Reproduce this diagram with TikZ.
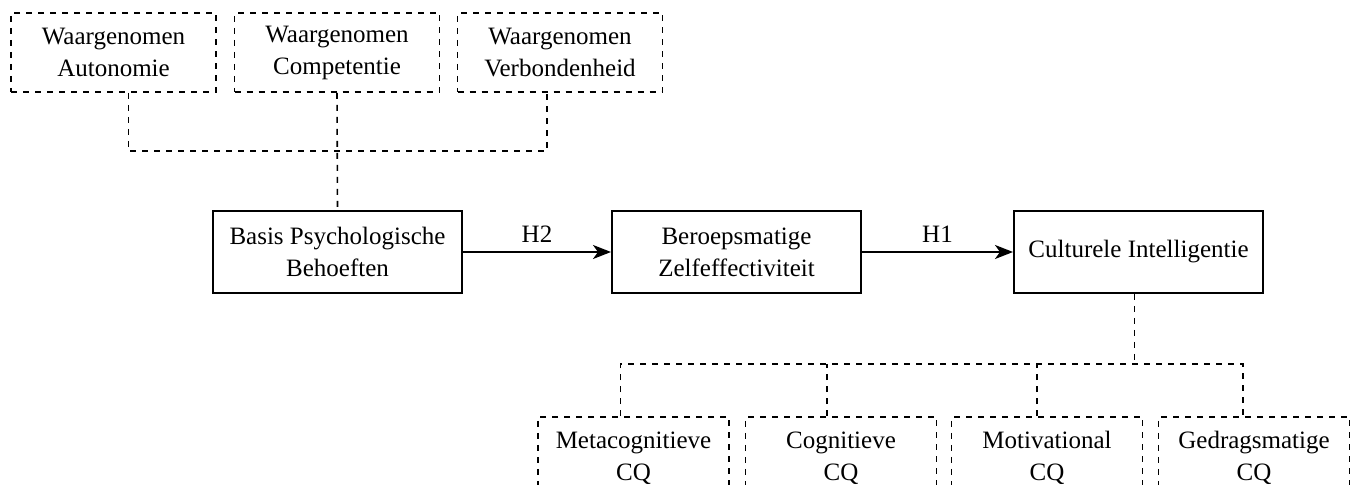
\documentclass[tikz,border=0pt]{standalone}
\usepackage{fontspec}
\setmainfont{Liberation Serif}
\usetikzlibrary{arrows.meta}
\begin{document}
\begin{tikzpicture}[x=0.5pt,y=-0.5pt,
  txt/.style={align=center, inner sep=0pt, font=\fontsize{12.5}{16}\selectfont},
  solidbox/.style={txt, draw, line width=1pt, minimum width=124.5pt, minimum height=41pt},
  dl/.style={draw, line width=0.8pt, dash pattern=on 3pt off 3pt},
  topbox/.style={txt, dl, minimum width=102.5pt, minimum height=39.5pt},
  botbox/.style={txt, dl, minimum width=95.5pt, minimum height=41pt},
  arr/.style={draw, line width=1pt, -{Stealth[length=9pt, width=7pt, inset=2.5pt]}}
]
\clip (0,0) rectangle (1353,485);
% top row
\node[topbox] (t1) at (113.5,52.5) {Waargenomen\\Autonomie};
\node[topbox] (t2) at (337,52.5) {Waargenomen\\Competentie};
\node[topbox] (t3) at (560,52.5) {Waargenomen\\Verbondenheid};
% middle row
\node[solidbox] (bpb) at (337.5,252) {Basis Psychologische\\Behoeften};
\node[solidbox] (bz) at (736.5,252) {Beroepsmatige\\Zelfeffectiviteit};
\node[solidbox] (ci) at (1138.5,252) {Culturele Intelligentie};
% bottom row
\node[botbox] (b1) at (633.5,458) {Metacognitieve\\CQ};
\node[botbox] (b2) at (841,458) {Cognitieve\\CQ};
\node[botbox] (b3) at (1047,458) {Motivational\\CQ};
\node[botbox] (b4) at (1254,458) {Gedragsmatige\\CQ};
% top bracket
\coordinate (ht1) at ([xshift=7.5pt]t1.south |- 0,151);
\coordinate (ht3) at ([xshift=-6.5pt]t3.south |- 0,151);
\draw[dl] ([xshift=7.5pt]t1.south) -- (ht1) -- (ht3) -- ([xshift=-6.5pt]t3.south);
\draw[dl] (t2.south) -- (bpb.north);
% arrows
\draw[arr] (bpb.east) -- node[above, txt, inner sep=4pt] {H2} (bz.west);
\draw[arr] (bz.east) -- node[above, txt, inner sep=4pt] {H1} (ci.west);
% bottom bracket
\coordinate (jb) at ([xshift=-2pt]ci.south |- 0,364);
\coordinate (hb1) at ([xshift=-6.5pt]b1.north |- 0,364);
\coordinate (hb2) at ([xshift=-7pt]b2.north |- 0,364);
\coordinate (hb3) at ([xshift=-5pt]b3.north |- 0,364);
\coordinate (hb4) at ([xshift=-5.5pt]b4.north |- 0,364);
\draw[dl] ([xshift=-2pt]ci.south) -- (jb);
\draw[dl] ([xshift=-6.5pt]b1.north) -- (hb1) -- (hb4) -- ([xshift=-5.5pt]b4.north);
\draw[dl] ([xshift=-7pt]b2.north) -- (hb2);
\draw[dl] ([xshift=-5pt]b3.north) -- (hb3);
\end{tikzpicture}
\end{document}
